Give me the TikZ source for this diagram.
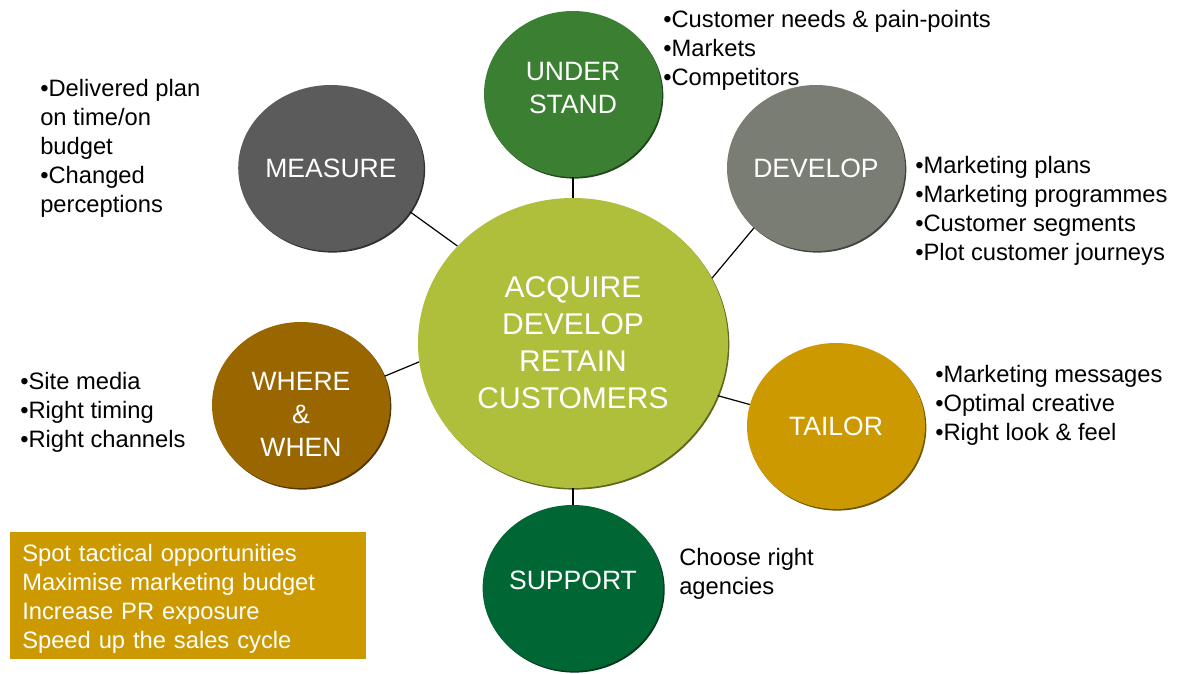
\documentclass[tikz,border=0pt]{standalone}
\usepackage{fontspec}
\setmainfont{Liberation Sans}
\usepackage{tikz}
\usetikzlibrary{shapes.geometric}

\definecolor{hubgreen}{RGB}{175,190,59}
\definecolor{leafgreen}{RGB}{59,127,50}
\definecolor{slate}{RGB}{91,91,91}
\definecolor{sage}{RGB}{122,125,116}
\definecolor{mustard}{RGB}{204,154,0}
\definecolor{forest}{RGB}{0,102,51}
\definecolor{bronze}{RGB}{153,102,0}

\newcommand\hubfont{\fontsize{22.5}{27.75}\selectfont}
\newcommand\ringfont{\fontsize{19.9}{24.75}\selectfont}
\newcommand\notefont{\fontsize{17.8}{21.75}\selectfont}
% change the depth of a label box so that it sits off the centre of its node
\newcommand\padbot[2]{\raisebox{0pt}[\height][\dimexpr\depth+#1\relax]{#2}}

\begin{document}
\begin{tikzpicture}[x=0.75pt,y=-0.75pt,
    ring/.style={ellipse, fill=#1, text=white, font=\ringfont, align=center,
        minimum width=133.5pt, minimum height=124.5pt, inner sep=0pt,
        preaction={fill=#1!55!black, transform canvas={shift={(1pt,-1.2pt)}}}},
    note/.style={anchor=north west, inner sep=0pt, align=left, font=\notefont},
    spoke/.style={line width=0.9pt}]
    \useasboundingbox (0,0) rectangle (1179,674);

    \node[ring=hubgreen, font=\hubfont, minimum width=232.5pt, minimum height=217.5pt] (hub) at (573,343) {ACQUIRE\\DEVELOP\\RETAIN\\CUSTOMERS};
    \node[ring=leafgreen] (understand) at (573,94) {\padbot{6pt}{\begin{tabular}{@{}c@{}}UNDER\\STAND\end{tabular}}};
    \node[ring=slate] (measure) at (331,168) {MEASURE};
    \node[ring=sage] (develop) at (816,168) {DEVELOP};
    \node[ring=mustard] (tailor) at (836,426) {TAILOR};
    \node[ring=forest] (support) at (573,588) {\padbot{12pt}{SUPPORT}};
    \node[ring=bronze] (where) at (301,405) {\padbot{-18pt}{\begin{tabular}{@{}c@{}}WHERE\\\&\\WHEN\end{tabular}}};

    \draw[spoke] (hub.90) -- (understand.270);
    \draw[spoke] (hub.140) -- (measure.331);
    \draw[spoke] (hub.25) -- (develop.224);
    \draw[spoke] (hub.340) -- (tailor.166);
    \draw[spoke] (hub.270) -- (support.90);
    \draw[spoke] (hub.187) -- (where.19);

    \node[note] (understandnote) at (663,10) {•Customer needs \& pain-points\\•Markets\\•Competitors};
    \node[note] (measurenote) at (40,79) {•Delivered plan\\on time/on\\budget\\•Changed\\perceptions};
    \node[note] (developnote) at (915,156) {•Marketing plans\\•Marketing programmes\\•Customer segments\\•Plot customer journeys};
    \node[note] (tailornote) at (935,365) {•Marketing messages\\•Optimal creative\\•Right look \& feel};
    \node[note] (wherenote) at (20,372) {•Site media\\•Right timing\\•Right channels};
    \node[note] (supportnote) at (679,548) {Choose right\\agencies};

    \node[note, fill=mustard, text=white, inner xsep=9pt, inner ysep=0pt, text width=249pt, minimum height=95.25pt] (gains) at (10,532) {\padbot{-4.5pt}{\begin{tabular}{@{}l@{}}Spot tactical opportunities\\Maximise marketing budget\\Increase PR exposure\\Speed up the sales cycle\end{tabular}}};
\end{tikzpicture}
\end{document}
